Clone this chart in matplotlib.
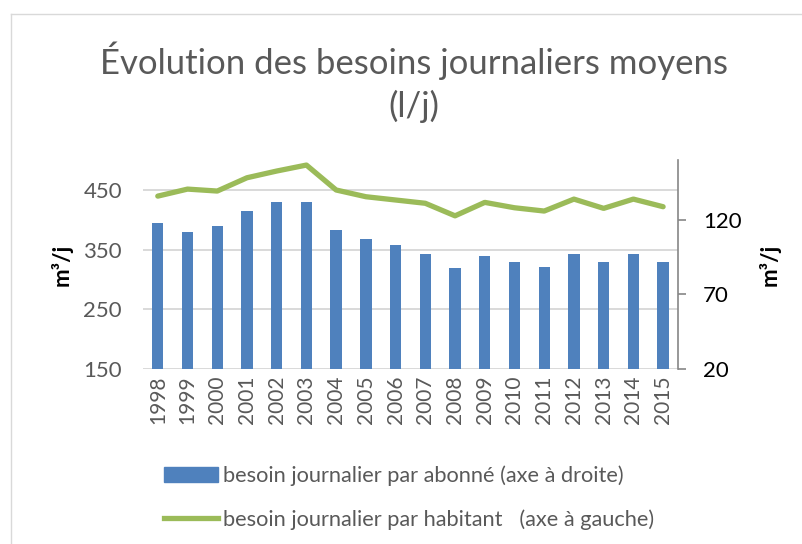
import matplotlib.pyplot as plt
from matplotlib.lines import Line2D
from matplotlib.patches import Patch

plt.rcParams['font.family'] = ['Lato', 'DejaVu Sans']

years = ['1998', '1999', '2000', '2001', '2002', '2003', '2004', '2005', '2006',
         '2007', '2008', '2009', '2010', '2011', '2012', '2013', '2014', '2015']
# besoin journalier par abonne (axe gauche sur le graphique)
abonne = [394, 379, 390, 414, 430, 430, 382, 367, 358,
          343, 319, 339, 330, 320, 342, 330, 343, 329]
# besoin journalier par habitant (axe droit sur le graphique)
habitant = [135.8, 140.5, 139.2, 148.1, 152.6, 156.6, 139.9, 135.4, 133.2,
            131.0, 122.6, 131.6, 128.0, 125.8, 133.8, 127.6, 133.8, 128.7]

grey = '#595959'
blue = '#4f81bd'
green = '#9bbb59'

fig = plt.figure(figsize=(8.03, 5.44), dpi=100)
ax = fig.add_axes([0.178, 0.3217, 0.6663, 0.3842])
x = range(len(years))
ax.bar(x, abonne, width=0.38, color=blue, zorder=2)
ax.set_ylim(150, 500)
ax.set_xlim(-0.5, len(years) - 0.5)
ax.set_yticks([150, 250, 350, 450])
ax.yaxis.grid(True, color='#d9d9d9', linewidth=1.4, zorder=0)
ax.set_axisbelow(True)
for s in ax.spines.values():
    s.set_visible(False)
ax.tick_params(axis='y', length=0, labelsize=16, labelcolor=grey, pad=15)
ax.set_xticks(list(x))
ax.set_xticklabels(years, rotation=90)
ax.tick_params(axis='x', length=0, labelsize=15, labelcolor=grey, pad=5)
ax.set_ylabel('m³/j', fontsize=16, fontweight='bold', labelpad=8)

ax2 = ax.twinx()
ax2.plot(x, habitant, color=green, linewidth=3.8, solid_capstyle='round')
ax2.set_ylim(20, 160)
ax2.set_yticks([20, 70, 120])
for k, s in ax2.spines.items():
    s.set_visible(k == 'right')
ax2.spines['right'].set_color('#868686')
ax2.spines['right'].set_linewidth(1.2)
ax2.tick_params(axis='y', length=6, width=1.2, color='#868686', labelsize=16,
                labelcolor='black', pad=12)
ax2.set_ylabel('m³/j', fontsize=16, fontweight='bold', labelpad=12)

fig.text(0.515, 0.849, 'Évolution des besoins journaliers moyens\n(l/j)',
         ha='center', va='center', fontsize=25, color=grey, linespacing=1.38)

handles = [Patch(color=blue), Line2D([0], [0], color=green, linewidth=3.8)]
labels = ['besoin journalier par abonné (axe à droite)',
          'besoin journalier par habitant   (axe à gauche)']
fig.legend(handles, labels, loc='upper left', bbox_to_anchor=(0.204, 0.144),
           frameon=False, fontsize=15.7, labelcolor=grey, handlelength=2.5,
           handletextpad=0.2, labelspacing=1.05, borderpad=0, borderaxespad=0)

fig.add_artist(Line2D([11 / 803, 11 / 803], [0, 1 - 14 / 544], color='#d9d9d9',
                      linewidth=1, transform=fig.transFigure))
fig.add_artist(Line2D([11 / 803, 1], [1 - 14 / 544, 1 - 14 / 544], color='#d9d9d9',
                      linewidth=1, transform=fig.transFigure))

fig.savefig('out.png', dpi=100)
